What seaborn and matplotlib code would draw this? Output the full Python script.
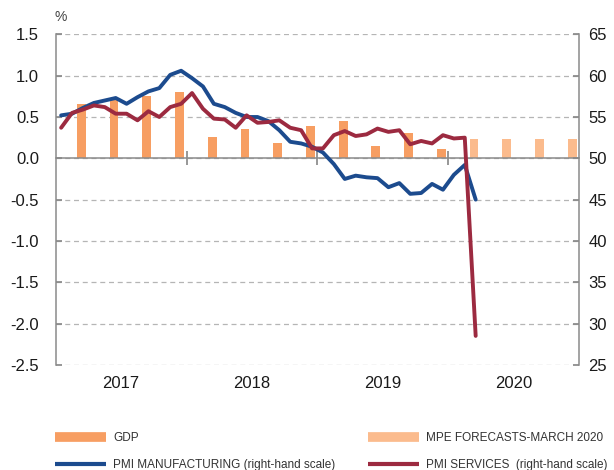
import matplotlib
matplotlib.use("Agg")
import matplotlib.pyplot as plt
from matplotlib.lines import Line2D
import numpy as np
import seaborn as sns

years = ["2017", "2018", "2019", "2020"]

# GDP, quarterly % change (left scale), 2017 Q1 - 2019 Q4
gdp = [0.66, 0.71, 0.76, 0.80, 0.26, 0.36, 0.19, 0.39, 0.45, 0.15, 0.31, 0.11]
# MPE forecasts March 2020, 2020 Q1 - Q4
gdp_forecast = [0.23, 0.23, 0.23, 0.23]

# monthly PMI, Jan 2017 - Mar 2020 (right scale)
pmi_manuf = [55.2, 55.4, 56.1, 56.7, 57.0, 57.3, 56.6, 57.4, 58.1, 58.5, 60.1, 60.6,
             59.7, 58.7, 56.6, 56.2, 55.5, 55.0, 55.0, 54.5, 53.4, 52.0, 51.8, 51.4,
             50.7, 49.3, 47.5, 47.9, 47.7, 47.6, 46.5, 47.0, 45.7, 45.8, 46.9, 46.2,
             48.0, 49.2, 45.0]
pmi_serv = [53.7, 55.5, 55.9, 56.4, 56.2, 55.4, 55.4, 54.6, 55.7, 55.0, 56.2, 56.6,
            57.9, 56.0, 54.8, 54.7, 53.7, 55.2, 54.3, 54.4, 54.6, 53.7, 53.4, 51.2,
            51.2, 52.8, 53.3, 52.7, 52.9, 53.6, 53.2, 53.4, 51.7, 52.1, 51.8, 52.8,
            52.4, 52.5, 28.5]

labels = ["GDP", "MPE FORECASTS-MARCH 2020",
          "PMI MANUFACTURING (right-hand scale)", "PMI SERVICES  (right-hand scale)"]

c_gdp = "#f79e62"
c_fc = "#fbbb8d"
c_manuf = "#1c4b8e"
c_serv = "#9c2a40"
c_axis = "#8a8a8a"

sns.set_theme(style="white")
plt.rcParams["font.family"] = ["Liberation Sans", "DejaVu Sans"]
plt.rcParams["axes.unicode_minus"] = False

fig = plt.figure(figsize=(6.14, 4.70), dpi=100)
ax = fig.add_axes([0.0907, 0.2238, 0.8528, 0.703])

# x axis in months from Jan 2017; bars sit in the last month of each quarter
q_pos = np.arange(len(gdp)) * 3 + 2.35
f_pos = (np.arange(len(gdp_forecast)) + len(gdp)) * 3 + 2.35
months = np.arange(len(pmi_manuf)) + 0.5

sns.barplot(x=q_pos, y=gdp, native_scale=True, width=0.27, color=c_gdp,
            saturation=1, errorbar=None, linewidth=0, ax=ax)
sns.barplot(x=f_pos, y=gdp_forecast, native_scale=True, width=0.27, color=c_fc,
            saturation=1, errorbar=None, linewidth=0, ax=ax)

ax.set_xlim(0, 48)
ax.set_ylim(-2.5, 1.5)
ax.set_axisbelow(True)
ax.yaxis.grid(True, linestyle=(0, (4, 3)), color="#b5b5b5", lw=0.9)
ax.xaxis.grid(False)

yt = np.arange(-2.5, 1.51, 0.5)
ax.set_yticks(yt)
ax.set_yticklabels([f"{v:.1f}" for v in yt])
ax.tick_params(axis="y", left=True, direction="in", length=4, pad=12,
               labelsize=12, color=c_axis, labelcolor="#1a1a1a")

ax.set_xticks([12, 24, 36])
ax.set_xticklabels([])
ax.tick_params(axis="x", bottom=True, direction="inout", length=10, color=c_axis)
ax.spines["bottom"].set_position(("data", 0))
ax.spines["top"].set_visible(False)
ax.spines["right"].set_visible(False)
for s in ["left", "bottom"]:
    ax.spines[s].set_color(c_axis)
    ax.spines[s].set_linewidth(1.1)

for i, yr in enumerate(years):
    ax.text(i * 12 + 6, -0.0575, yr, transform=ax.get_xaxis_transform(),
            ha="center", va="center", fontsize=12, color="#1a1a1a")

ax2 = ax.twinx()
sns.lineplot(x=months, y=pmi_manuf, color=c_manuf, lw=2.8, ax=ax2)
sns.lineplot(x=months, y=pmi_serv, color=c_serv, lw=2.8, ax=ax2)
ax2.set_ylim(25, 65)
ax2.set_xlim(0, 48)
ax2.set_yticks(range(25, 66, 5))
ax2.tick_params(axis="y", right=True, direction="in", length=4, pad=6.5,
                labelsize=12, color=c_axis, labelcolor="#1a1a1a")
ax2.set_ylabel("")
for s in ["left", "top", "bottom"]:
    ax2.spines[s].set_visible(False)
ax2.spines["right"].set_color(c_axis)
ax2.spines["right"].set_linewidth(1.1)

fig.text(61 / 614, 1 - 17 / 470, "%", ha="center", va="center",
         fontsize=10, color="#444444")

leg_font = {"family": ["Liberation Sans", "DejaVu Sans"], "size": 8.5}
common = dict(loc="upper left", frameon=False, borderpad=0, borderaxespad=0,
              handlelength=4.3, handletextpad=0.65, labelspacing=1.25,
              prop=leg_font, labelcolor="#333333")
h = [Line2D([], [], color=c_gdp, lw=7, solid_capstyle="butt"),
     Line2D([], [], color=c_fc, lw=7, solid_capstyle="butt"),
     Line2D([], [], color=c_manuf, lw=3, solid_capstyle="butt"),
     Line2D([], [], color=c_serv, lw=3, solid_capstyle="butt")]
fig.legend([h[0], h[2]], [labels[0], labels[2]],
           bbox_to_anchor=(55 / 614, 1 - 432 / 470), **common)
fig.legend([h[1], h[3]], [labels[1], labels[3]],
           bbox_to_anchor=(368 / 614, 1 - 432 / 470), **common)

fig.savefig("out.png", dpi=100)
